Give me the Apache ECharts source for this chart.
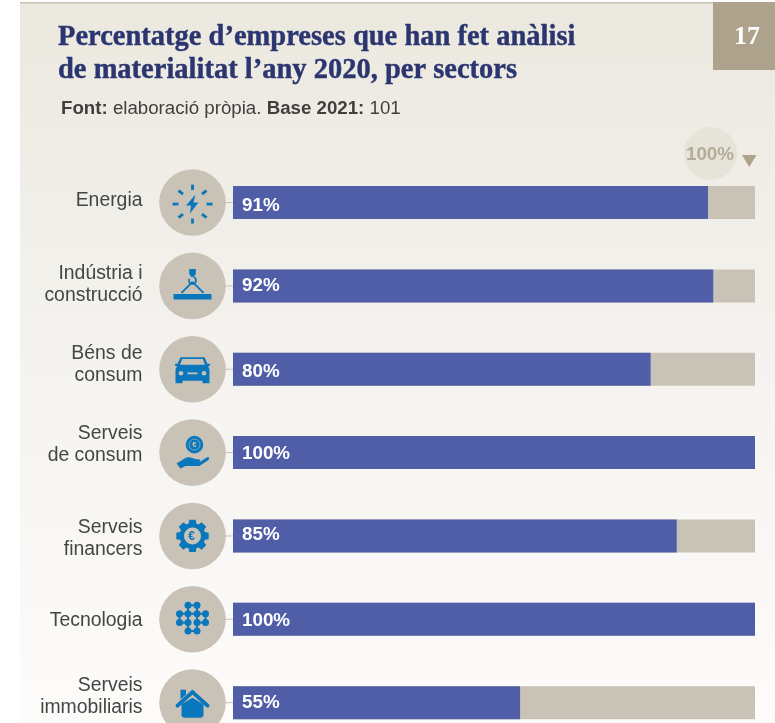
<!DOCTYPE html>
<html><head><meta charset="utf-8">
<style>html,body{margin:0;padding:0;background:#fff}#c{width:775px;height:723px}</style>
<script src="https://cdn.jsdelivr.net/npm/echarts@6/dist/echarts.min.js"></script>
</head><body><div id="c"></div>
<script>
const categories = ['Energia','Indústria i\nconstrucció','Béns de\nconsum','Serveis\nde consum','Serveis\nfinancers','Tecnologia','Serveis\nimmobiliaris'];
const values = [91,92,80,100,85,100,55];
const referenceLabel = '100%';
const titleText = 'Percentatge d’empreses que han fet anàlisi\nde materialitat l’any 2020, per sectors';
const pageNumber = '17';
const categoryNudge = [-1.5,-1,-4.5,-8,2.5,1.5,-6];
const valueNudge = [3,0,3,1,-1,2,0];

const BLUE='#0a77bd', TAN='#c8c3b6', BAR='#505ea8';
const nodes=[[-4.5,-14],[4.5,-14],[-13,-5.5],[-4.5,-5.5],[4.5,-5.5],[13,-5.5],[-13,3.3],[-4.5,3.3],[4.5,3.3],[13,3.3],[-4.5,11.7],[4.5,11.7]];
function circ(x,y,r,fill){return {type:'circle',shape:{cx:x,cy:y,r:r},style:{fill:fill||BLUE}};}
function line(a,b,c,d,w){return {type:'line',shape:{x1:a,y1:b,x2:c,y2:d},style:{stroke:BLUE,lineWidth:w||2,lineCap:'butt',fill:null}};}
function poly(pts,fill){return {type:'polygon',shape:{points:pts},style:{fill:fill||BLUE}};}
function euro(x,y,s){return {type:'text',style:{x:x,y:y,text:'€',fill:BLUE,font:'bold '+s+'px "Liberation Sans"',align:'center',verticalAlign:'middle'}};}
function gear(){const p=[],n=8,out=16.5,inn=13;for(let i=0;i<n;i++){const a=i*2*Math.PI/n-Math.PI/2;const d=.2,e=.3;
 [[inn,a-e],[out,a-d],[out,a+d],[inn,a+e]].forEach(q=>p.push([q[0]*Math.cos(q[1]),q[0]*Math.sin(q[1])]));}
 return [poly(p),circ(0,0,8.5,TAN),euro(-1,0.5,12)];}
const icons=[
 ()=>{const r=[poly([[3,-8],[-6.5,3],[-1.5,3],[-2.5,11],[6,0],[1,0]])];
  [[0,-18,0,-12.5],[0,16,0,21],[-20,1.5,-14,1.5],[14,1.5,20,1.5],[-14,-12,-9.5,-8.5],[14,-12,9.5,-8.5],[-14,15,-9.5,11.5],[14,15,9.5,11.5]].forEach(l=>r.push(line(l[0],l[1],l[2],l[3],2.8)));return r;},
 ()=>[poly([[-19,8],[19,8],[19,13.5],[-19,13.5]]),poly([[-3.3,-17],[3.3,-17],[3.3,-12],[1.2,-9],[-1.2,-9],[-3.3,-12]]),line(-11,7,0,-4,2),line(11,7,0,-4,2),
   {type:'arc',shape:{cx:0,cy:-5.5,r:3.5,startAngle:-1.2,endAngle:3.6},style:{stroke:BLUE,lineWidth:1.8,fill:null}}],
 ()=>[{type:'path',shape:{pathData:'M-12,-12 L12,-12 L15,-5.5 L17.5,-5.5 L17.5,-3.5 L15.5,-3 L17,0 L17,14 L10,14 L10,11.5 L-10,11.5 L-10,14 L-17,14 L-17,0 L-15.5,-3 L-17.5,-3.5 L-17.5,-5.5 L-15,-5.5 Z',layout:'none'},style:{fill:BLUE}},
   poly([[-10.2,-10.2],[10.2,-10.2],[12.5,-4.5],[-12.5,-4.5]],TAN),circ(-11.5,4,2.3,TAN),circ(11.5,4,2.3,TAN),poly([[-5,3.2],[5,3.2],[5,5],[-5,5]],TAN)],
 ()=>[circ(2,-8,8.8),{type:'circle',shape:{cx:2,cy:-8,r:5.5},style:{fill:BLUE,stroke:TAN,lineWidth:.6}},{type:'text',style:{x:2,y:-7.6,text:'€',fill:TAN,font:'bold 8px "Liberation Sans"',align:'center',verticalAlign:'middle'}},
   {type:'path',shape:{pathData:'M-16,11 L-7,5.5 C-3,3.5 0,6 3,6.5 L7,7 C8.5,7.8 7.5,9.5 6,9.5 L0,9.5 L7,9.5 L15,4.5 C17,4.5 17,6.5 16,7.5 L7,13.5 L-7,13.5 L-12,16 Z',layout:'none'},style:{fill:BLUE}}],
 gear,
 ()=>{const r=[];[[0,3],[1,4],[2,3],[3,4],[4,5],[6,7],[8,9],[7,10],[8,11],[3,7],[4,8],[2,6],[5,9],[0,1],[10,11]].forEach(e=>r.push(line(nodes[e[0]][0],nodes[e[0]][1],nodes[e[1]][0],nodes[e[1]][1],2)));
   nodes.forEach(n=>r.push(circ(n[0],n[1],3.5)));return r;},
 ()=>[poly([[-11,1.5],[0,-5],[11,1.5],[11,13],[9,15],[-9,15],[-11,13]]),poly([[-12,-13],[-6.5,-13],[-6.5,-8],[-12,-3.5]]),
   {type:'polyline',shape:{points:[[-15,3],[0,-10.5],[15,3]]},style:{stroke:BLUE,lineWidth:4,fill:null,lineCap:'round'}}]
];

const chart=echarts.init(document.getElementById('c'),null,{renderer:'canvas'});
chart.setOption({
 animation:false,
 backgroundColor:'#fff',
 title:[
  {text:titleText,left:53,top:16,textStyle:{fontFamily:'Liberation Serif',fontWeight:'bold',fontSize:28.5,lineHeight:33,color:'#2b3570',textBorderColor:'#2b3570',textBorderWidth:0.4}},
  {text:'{b|Font:} elaboració pròpia. {b|Base 2021:} 101',left:56,top:94,textStyle:{rich:{b:{fontFamily:'Liberation Sans',fontWeight:'bold',fontSize:18.7,color:'#3f3f3d'}},fontFamily:'Liberation Sans',fontWeight:'normal',fontSize:18.7,color:'#3f3f3d'}}
 ],
 grid:{left:233,right:20,top:160.9,height:583.4,outerBoundsMode:'none'},
 xAxis:{type:'value',min:0,max:100,show:false},
 yAxis:{type:'category',inverse:true,axisLine:{show:false},axisTick:{show:false},data:categories,axisLabel:{show:false}},
 series:[
  {type:'bar',data:values.map((v,i)=>({value:v,label:{offset:[0,valueNudge[i]]}})),barWidth:33,z:3,itemStyle:{color:BAR},showBackground:true,backgroundStyle:{color:TAN},
   label:{show:true,position:'insideLeft',distance:9,formatter:'{c}%',fontFamily:'Liberation Sans',fontWeight:'bold',fontSize:18.8,color:'#fff'}},
  {type:'custom',data:values,clip:false,z:4,encode:{x:0},
   renderItem:function(params,api){
    const i=params.dataIndex;
    const p=api.coord([0,i]);
    const cx=p[0]-40.5,cy=p[1];
    return {type:'group',children:[
     {type:'text',style:{x:p[0]-90.5,y:cy+categoryNudge[i],text:categories[i],align:'right',verticalAlign:'middle',font:'19.4px "Liberation Sans"',lineHeight:22,fill:'#454543'}},
     {type:'line',shape:{x1:cx+30,y1:cy,x2:p[0],y2:cy},style:{stroke:TAN,lineWidth:1}},
     {type:'circle',shape:{cx:cx,cy:cy,r:33.3},style:{fill:TAN}},
     {type:'group',x:cx,y:cy,children:icons[i]()}
    ]};
   }}
 ],
 graphic:[
  {type:'rect',z:-2,shape:{x:20,y:3,width:755,height:720},style:{fill:new echarts.graphic.LinearGradient(0,0,0,1,[{offset:0,color:'#ebe8df'},{offset:.5,color:'#f4f3ef'},{offset:.95,color:'#fcfbfa'},{offset:1,color:'#fdfcfb'}])}},
  {type:'rect',z:-1,shape:{x:20,y:2,width:755,height:1.5},style:{fill:'#c8c2b2'}},
  {type:'rect',z:-1,shape:{x:713,y:2,width:62,height:68},style:{fill:'#ada38c'}},
  {type:'text',z:-1,style:{x:747,y:37,text:pageNumber,align:'center',verticalAlign:'middle',fill:'#fff',font:'bold 26px "Liberation Serif"'}},
  {type:'circle',z:-1,shape:{cx:710.5,cy:153.5,r:26.5},style:{fill:'#e6e3d8'}},
  {type:'text',z:-1,style:{x:710,y:155,text:referenceLabel,align:'center',verticalAlign:'middle',fill:'#b3ac98',font:'bold 18.8px "Liberation Sans"'}},
  {type:'polygon',z:-1,shape:{points:[[742,155],[756.5,155],[749.2,167]]},style:{fill:'#ada38c'}}
 ]
});
</script></body></html>
